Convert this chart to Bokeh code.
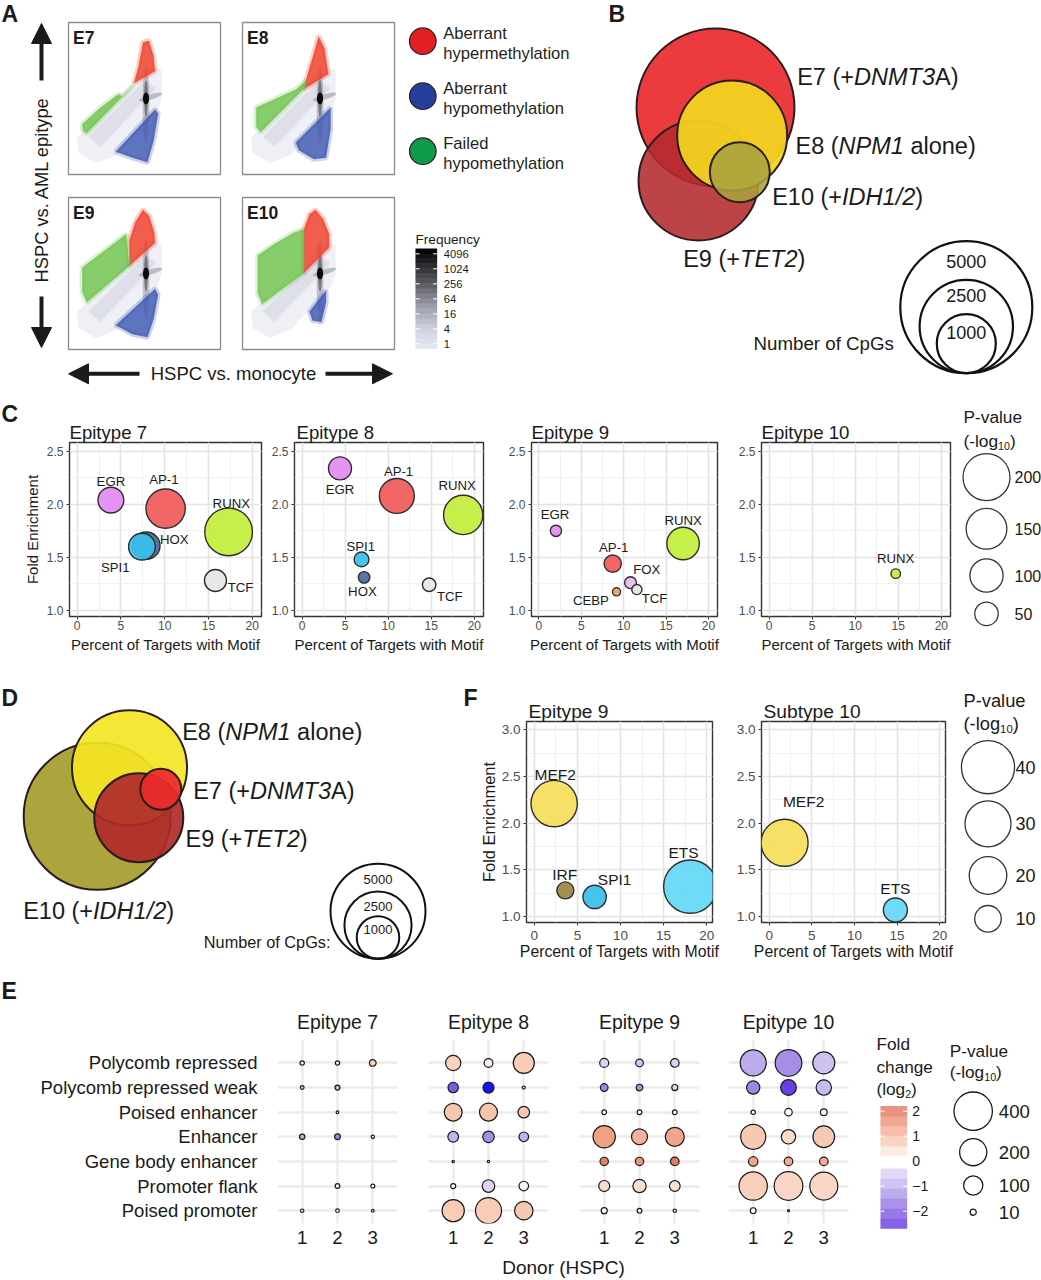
import math
from bokeh.plotting import figure
from bokeh.layouts import column, row
from bokeh.models import (Range1d, Arrow, NormalHead, SingleIntervalTicker, FixedTicker,
                          PrintfTickFormatter, LinearColorMapper, ColumnDataSource)
from bokeh.core.properties import value
from bokeh.transform import transform
from bokeh.embed import file_html
from bokeh.resources import INLINE

FONT = "Liberation Sans"
INK = "#1a1a1a"
NB = "\u00a0"

# ======================= DATA =======================
# Panel A: outlines of the point clouds, box coordinates (0..100)
A_EPITYPES = ["E7", "E8", "E9", "E10"]
A_BAND_U = [7, 43, 52, 60, 60, 57, 31, 18, 8]
A_BAND_V = [24, 59, 70, 68, 50, 42, 14, 9, 15]
A_INNER_U = [14, 50, 57, 21]
A_INNER_V = [25, 61, 57, 19]
A_RED_U = [[49, 53, 56, 57, 43, 46], [50, 54, 56.5, 40, 44, 47],
           [49, 53, 56.5, 57, 40, 40, 44], [48, 53, 57, 57, 40, 40, 44]]
A_RED_V = [[87, 88, 78, 68, 60, 71], [91, 83, 66, 56, 70, 80],
           [92, 88, 77, 70, 55, 72, 84], [92, 86, 76, 67, 50, 78, 89]]
A_GREEN_U = [[9, 21, 33, 36, 43, 12, 9.5], [9, 22, 35, 42, 41, 12, 9],
             [9, 25, 38, 40, 12, 9], [10, 22, 34, 40, 40, 13, 10]]
A_GREEN_V = [[33, 44, 53, 51, 59, 27, 29], [44, 50, 56, 62, 57, 28, 31],
             [54, 66, 76, 55, 31, 38], [62, 70, 77, 79, 50, 30, 37]]
A_BLUE_U = [[31, 57, 59, 56, 52, 42], [35, 58, 58, 55, 47, 37],
            [31, 57, 59, 56, 52, 42], [44, 55, 55, 52, 46]]
A_BLUE_V = [[15, 43, 40, 22, 8, 11], [21, 44, 30, 11, 10, 16],
            [16, 40, 36, 20, 8, 10], [25, 39, 31, 18, 19]]
A_CLASSES = ["Aberrant hypermethylation", "Aberrant hypomethylation", "Failed hypomethylation"]
A_FREQ_TICKS = [1, 4, 16, 64, 256, 1024, 4096]

# Panel B / D: number of CpGs per epitype (Venn)
B_NAMES = ["E7", "E8", "E9", "E10"]
B_COUNTS = [7160, 3470, 4130, 1030]
D_COUNTS = [930, 7330, 4390, 11970]
VENN_LEGEND = [5000, 2500, 1000]
B_LABELS = [[("E7" + NB + "(+", "normal"), ("DNMT3", "italic"), ("A)", "normal")],
            [("E8" + NB + "(", "normal"), ("NPM1", "italic"), (NB + "alone)", "normal")],
            [("E9" + NB + "(+", "normal"), ("TET2", "italic"), (")", "normal")],
            [("E10" + NB + "(+", "normal"), ("IDH1/2", "italic"), (")", "normal")]]

# Panel C: motif enrichment
C_TITLES = ["Epitype 7", "Epitype 8", "Epitype 9", "Epitype 10"]
C_E7_MOTIF = ["EGR", "AP-1", "RUNX", "HOX", "SPI1", "TCF"]
C_E7_PCT = [3.85, 10.1, 17.3, 7.9, 7.4, 15.8]
C_E7_FOLD = [2.04, 1.96, 1.74, 1.61, 1.60, 1.28]
C_E7_PVAL = [60, 140, 206, 68, 65, 44]
C_E8_MOTIF = ["EGR", "AP-1", "RUNX", "SPI1", "HOX", "TCF"]
C_E8_PCT = [4.4, 11.0, 18.7, 6.9, 7.2, 14.75]
C_E8_FOLD = [2.34, 2.08, 1.90, 1.48, 1.31, 1.24]
C_E8_PVAL = [48, 111, 140, 20, 12, 16.5]
C_E9_MOTIF = ["EGR", "RUNX", "AP-1", "FOX", "TCF", "CEBP"]
C_E9_PCT = [2.0, 17.0, 8.7, 10.8, 11.55, 9.15]
C_E9_FOLD = [1.75, 1.63, 1.44, 1.26, 1.195, 1.173]
C_E9_PVAL = [11.4, 96, 27, 12.8, 9.4, 6]
C_E10_MOTIF = ["RUNX"]
C_E10_PCT = [14.7]
C_E10_FOLD = [1.345]
C_E10_PVAL = [8.2]
C_LEGEND_P = [200, 150, 100, 50]

# Panel F
F_TITLES = ["Epitype 9", "Subtype 10"]
F_E9_MOTIF = ["MEF2", "IRF", "SPI1", "ETS"]
F_E9_PCT = [2.3, 3.6, 7.0, 18.1]
F_E9_FOLD = [2.21, 1.28, 1.21, 1.32]
F_E9_PVAL = [30.4, 4.1, 7.7, 40.3]
F_S10_MOTIF = ["MEF2", "ETS"]
F_S10_PCT = [1.8, 14.8]
F_S10_FOLD = [1.79, 1.07]
F_S10_PVAL = [31.3, 8.2]
F_LEGEND_P = [40, 30, 20, 10]

# Panel E: chromatin states (rows top->bottom) x donors
E_STATES = ["Polycomb repressed", "Polycomb repressed weak", "Poised enhancer", "Enhancer",
            "Gene body enhancer", "Promoter flank", "Poised promoter"]
E_DONORS = [1, 2, 3]
E_TITLES = ["Epitype 7", "Epitype 8", "Epitype 9", "Epitype 10"]
N = None
E_E7_PVAL = [[5, 5, 12], [3.7, 6.8, N], [N, 2, N], [7.7, 8.7, 3], [N, N, N], [N, 6, 4.3], [3, 3.7, 2]]
E_E7_LOGFC = [[0.1, 0.1, 0.7], [-0.6, -1.0, N], [N, 0, N], [-1.0, -1.6, 0], [N, N, N], [N, 0, 0], [0, 0, 0]]
E_E8_PVAL = [[63, 21, 120], [29, 33, 2.5], [86, 88, 36], [31, 36, 25], [1.4, 1.4, N], [6.8, 43, 25], [134, 184, 92]]
E_E8_LOGFC = [[0.7, 0.3, 0.8], [-2.2, -4.0, 0], [0.9, 0.95, 0.9], [-1.0, -1.5, -1.0], [0, 0, N], [0, -0.5, -0.1], [0.8, 0.8, 0.85]]
E_E9_PVAL = [[22, 16, 20], [16, 12, 10], [6, 6, 6], [135, 69, 98], [19, 19, 20], [33, 48, 31], [10, 6, 3]]
E_E9_LOGFC = [[-0.5, -0.7, -0.5], [-1.6, -1.5, -0.4], [0, 0, 0], [1.5, 1.2, 1.4], [2.0, 1.7, 2.1], [0.6, 0.55, 0.5], [0, 0, 0]]
E_E10_PVAL = [[183, 193, 131], [48, 67, 64], [5, 15, 12], [170, 56, 127], [24, 20, 20], [218, 223, 213], [9, 1, N]]
E_E10_LOGFC = [[-1.1, -1.5, -0.8], [-1.6, -2.6, -0.9], [0, 0, 0], [0.85, 0.6, 0.85], [1.4, 1.3, 1.3], [0.75, 0.65, 0.65], [0, 0, N]]
E_FC_TICKS = [2, 1, 0, -1, -2]
E_LEGEND_P = [400, 200, 100, 10]

# ======================= STYLE / LAYOUT =======================
MOTIF_COLORS = {"EGR": "#e48cf2", "AP-1": "#f25a5c", "RUNX": "#c3ee3c", "HOX": "#4d6c9e",
                "SPI1": "#38c0ec", "TCF": "#e6e6e6", "FOX": "#e8baf2", "CEBP": "#eea25a",
                "MEF2": "#f7de5a", "IRF": "#9c8642", "ETS": "#64d8f6"}
AW = {' ': 278, NB: 278, '(': 333, ')': 333, '+': 584, '-': 333, '.': 278, '/': 278, ':': 278,
      'A': 667, 'B': 667, 'C': 722, 'D': 722, 'E': 667, 'F': 611, 'G': 778, 'H': 722, 'I': 278,
      'L': 556, 'M': 833, 'N': 722, 'P': 667, 'S': 667, 'T': 611,
      'a': 556, 'b': 556, 'c': 500, 'd': 556, 'e': 556, 'f': 278, 'g': 556, 'h': 556, 'i': 222,
      'k': 500, 'l': 222, 'm': 833, 'n': 556, 'o': 556, 'p': 556, 'q': 556, 'r': 333, 's': 500,
      't': 278, 'u': 556, 'v': 500, 'w': 722, 'y': 500}


def tw(s, fs):
    return sum(AW.get(c, 556) for c in s) * fs / 1000.0


def fsz(fs):
    return value(f"{round(fs, 1)}px")


def interp_palette(anchors, n=256):
    vals = [a[0] for a in anchors]
    cols = [tuple(int(a[1][i:i + 2], 16) for i in (1, 3, 5)) for a in anchors]
    out = []
    for j in range(n):
        t = vals[0] + (vals[-1] - vals[0]) * j / (n - 1)
        k = 0
        while k < len(vals) - 2 and t > vals[k + 1]:
            k += 1
        f = min(max((t - vals[k]) / (vals[k + 1] - vals[k]), 0), 1)
        c = [round(cols[k][m] + f * (cols[k + 1][m] - cols[k][m])) for m in range(3)]
        out.append("#%02x%02x%02x" % tuple(c))
    return out


FC_PALETTE = interp_palette([(-4.0, "#1414f0"), (-2.6, "#6a3ee0"), (-2.0, "#8a6ae0"), (-1.5, "#a58de8"),
                             (-1.0, "#c2b2f0"), (-0.5, "#ddd2f5"), (0.0, "#ffffff"), (0.5, "#fbe2d6"),
                             (0.8, "#f8cdb8"), (1.2, "#f4b49c"), (1.5, "#f0a084"), (2.0, "#e6806a"),
                             (2.5, "#d06650")])
GRAY_PALETTE = interp_palette([(-0.33, "#e6e8f3"), (1, "#cfd1de"), (2.5, "#9c9daa"), (4, "#5a5b62"),
                               (5.5, "#202022"), (6.33, "#000000")])


def canvas(x0, x1, y0, y1):
    p = figure(width=x1 - x0, height=y1 - y0, x_range=Range1d(x0, x1), y_range=Range1d(y1, y0),
               x_axis_location=None, y_axis_location=None, toolbar_location=None,
               output_backend="svg", min_border=0)
    p.outline_line_color = None
    p.grid.grid_line_color = None
    return p


def txt(p, x, y, s, fs, align="left", style="normal", color=INK, angle=0.0, baseline="middle", **kw):
    p.text(x=[x], y=[y], text=[s], text_font=value(FONT), text_font_size=fsz(fs),
           text_align=align, text_baseline=baseline, text_font_style=style,
           text_color=color, angle=angle, **kw)


def rich(p, x, y, parts, fs):
    for s, st in parts:
        txt(p, x, y, s, fs, style=st)
        x += tw(s, fs)


def neglog(p, x, y, fs, sub="10", pre="(-log"):
    txt(p, x, y, pre, fs)
    x2 = x + tw(pre, fs)
    txt(p, x2, y + 0.3 * fs, sub, fs * 0.62)
    txt(p, x2 + tw(sub, fs * 0.62), y, ")", fs)


# ======================= PANEL A =======================
pA = canvas(0, 590, 0, 392)
txt(pA, 1, 13, "A", 23, style="bold")
A_BOX_POS = [(68, 22), (242, 22), (68, 197), (242, 197)]
S = 152
xr_d, yr_d = {}, {}
for name, (bx, by) in zip(A_EPITYPES, A_BOX_POS):
    xr_d["x" + name] = Range1d((0 - bx) * 100 / S, (590 - bx) * 100 / S)
    yr_d["y" + name] = Range1d((by + S - 392) * 100 / S, (by + S - 0) * 100 / S)
yr_d["lv"] = Range1d((343.3 - 392) / 15, (343.3 - 0) / 15)
pA.extra_x_ranges = xr_d
pA.extra_y_ranges = yr_d

for i, name in enumerate(A_EPITYPES):
    kw = dict(x_range_name="x" + name, y_range_name="y" + name)
    pA.patch(A_BAND_U, A_BAND_V, fill_color="#eff0f6", line_color="#eff0f6", line_width=4, **kw)
    pA.patch(A_INNER_U, A_INNER_V, fill_color="#dcdde8", fill_alpha=0.9, line_color="#dcdde8",
             line_alpha=0.5, line_width=3, **kw)
    pA.ellipse(x=[51], y=[46], width=[4.5], height=[52], fill_color="#7d7e8c", fill_alpha=0.4, line_color=None, **kw)
    pA.ellipse(x=[54], y=[51], width=[16], height=[3.5], angle=[0.3], fill_color="#7d7e8c",
               fill_alpha=0.45, line_color=None, **kw)
    pA.ellipse(x=[51], y=[50], width=[2.5], height=[24], fill_color="#3a3a42", fill_alpha=0.55, line_color=None, **kw)
    pA.ellipse(x=[51], y=[50], width=[4], height=[8], fill_color="#0a0a0a", line_color=None, **kw)
    for U, V, col in ((A_RED_U, A_RED_V, "#ee3b24"), (A_GREEN_U, A_GREEN_V, "#6cc24a"),
                      (A_BLUE_U, A_BLUE_V, "#3b55b0")):
        pA.patch(U[i], V[i], fill_color=col, fill_alpha=0.82, line_color=col, line_alpha=0.25,
                 line_width=5, **kw)
    pA.quad(left=[0], right=[100], bottom=[0], top=[100], fill_color=None, line_color="#8c8c8c",
            line_width=1.3, **kw)
    txt(pA, 3, 90, name, 17.5, style="bold", **kw)

for xs, ys, xe, ye in ((41, 80, 41, 23), (41, 296, 41, 347), (139, 373.3, 68, 373.3), (325, 373.3, 392, 373.3)):
    pA.add_layout(Arrow(end=NormalHead(size=20, fill_color=INK, line_color=INK, line_width=1),
                        x_start=xs, y_start=ys, x_end=xe, y_end=ye, line_width=4, line_color=INK))
txt(pA, 41, 189, "HSPC vs. AML epitype", 18.3, align="center", angle=math.pi / 2)
txt(pA, 233, 373.3, "HSPC vs. monocyte", 18.5, align="center")

A_LEG_COLORS = ["#e31e24", "#24409a", "#0e9a48"]
for k, (lab, col) in enumerate(zip(A_CLASSES, A_LEG_COLORS)):
    cy = 40.7 + 55 * k
    pA.circle(x=[422.3], y=[cy], radius=[13.3], fill_color=col, line_color="#2b2020", line_width=1.2)
    w1, w2 = lab.split(" ", 1)
    txt(pA, 442.7, cy - 7.4, w1, 16.6, color="#231f20")
    txt(pA, 442.7, cy + 12.6, w2, 16.6, color="#231f20")

gray_map = LinearColorMapper(palette=GRAY_PALETTE, low=-0.33, high=6.33)
lv_centers = [-0.33 + (i + 0.5) / 3 for i in range(20)]
pA.rect(x=425.8, y="k", width=21.7, height=1 / 3 + 0.02, source=ColumnDataSource(dict(k=lv_centers)),
        fill_color=transform("k", gray_map), line_color=None, y_range_name="lv")
lv_ticks = [math.log(t, 4) for t in A_FREQ_TICKS]
pA.segment(x0=415, x1=419, y0=lv_ticks, y1=lv_ticks, line_color="white", line_width=1, y_range_name="lv")
pA.segment(x0=432.6, x1=436.6, y0=lv_ticks, y1=lv_ticks, line_color="white", line_width=1, y_range_name="lv")
pA.text(x=443.3, y=lv_ticks, text=[str(t) for t in A_FREQ_TICKS], text_font=value(FONT),
        text_font_size=fsz(11.2), text_baseline="middle", text_color=INK, y_range_name="lv")
txt(pA, 415, 239.3, "Frequency", 13.6)

# ======================= PANEL B =======================
pB = canvas(590, 1041, 0, 392)
txt(pB, 608, 13, "B", 23, style="bold")
B_CX = [715.0, 731.7, 698.0, 739.3]
B_CY = [107.0, 135.0, 180.0, 171.7]
B_FILL = ["#ec3b3f", "#f3d51f", "#b32a2e", "#aaa23e"]
B_ALPHA = [1.0, 0.93, 0.88, 0.88]
R_B = 66.0
for j in (0, 2, 1, 3):
    pB.circle(x=[B_CX[j]], y=[B_CY[j]], radius=[R_B * math.sqrt(B_COUNTS[j] / 5000)],
              fill_color=B_FILL[j], fill_alpha=B_ALPHA[j], line_color="#2b1d1d", line_width=2)
B_LAB_XY = [(796.7, 76), (795, 145), (682.7, 258.3), (771.7, 196.7)]
for parts, (lx, ly) in zip(B_LABELS, B_LAB_XY):
    rich(pB, lx, ly, parts, 23.5)
for n in VENN_LEGEND:
    r = R_B * math.sqrt(n / 5000)
    pB.circle(x=[965.8], y=[372.7 - r], radius=[r], fill_color=None, line_color="#111111", line_width=2.2)
for n, ly in zip(VENN_LEGEND, (261, 294.7, 331.7)):
    txt(pB, 965.8, ly, str(n), 18, align="center")
txt(pB, 893.3, 343.3, "Number of CpGs", 18.7, align="right")


# ======================= MOTIF PANELS (C, F) =======================
def motif_panel(x0, x1, fl, fr, y0, y1, ft, fb, xr, yr, title, t_fs, t_off, tick_fs, lab_fs,
                x_stand, xl_stand, y_stand):
    p = figure(width=x1 - x0, height=y1 - y0, x_range=Range1d(*xr), y_range=Range1d(*yr),
               toolbar_location=None, output_backend="svg",
               min_border_left=fl - x0, min_border_right=x1 - fr, min_border_top=ft - y0,
               min_border_bottom=y1 - fb)
    p.title.text = title
    p.title.text_font = FONT
    p.title.text_font_size = f"{t_fs}px"
    p.title.text_font_style = "normal"
    p.title.text_color = INK
    p.title.align = "left"
    p.title.offset = t_off
    p.title.standoff = 0
    p.outline_line_color = "#333333"
    p.outline_line_width = 1.4
    p.xaxis.ticker = SingleIntervalTicker(interval=5, num_minor_ticks=2)
    p.yaxis.ticker = SingleIntervalTicker(interval=0.5, num_minor_ticks=2)
    p.yaxis.formatter = PrintfTickFormatter(format="%.1f")
    for ax in (p.xaxis[0], p.yaxis[0]):
        ax.axis_line_color = None
        ax.major_tick_line_color = "#333333"
        ax.major_tick_out = 3
        ax.major_tick_in = 0
        ax.minor_tick_line_color = None
        ax.major_label_text_font = FONT
        ax.major_label_text_font_size = f"{tick_fs}px"
        ax.major_label_text_color = "#4d4d4d"
    p.xaxis.major_label_standoff = x_stand
    p.yaxis.major_label_standoff = y_stand
    p.xaxis.axis_label = "Percent of Targets with Motif"
    p.xaxis.axis_label_text_font = FONT
    p.xaxis.axis_label_text_font_size = f"{lab_fs}px"
    p.xaxis.axis_label_text_font_style = "normal"
    p.xaxis.axis_label_text_color = INK
    p.xaxis.axis_label_standoff = xl_stand
    for g in (p.xgrid[0], p.ygrid[0]):
        g.grid_line_color = "#e3e3e3"
        g.grid_line_width = 1.6
        g.minor_grid_line_color = "#eeeeee"
        g.minor_grid_line_width = 0.9
    return p


def bubbles(p, names, xs, ys, ps, dxs, dys, k, fs):
    src = ColumnDataSource(dict(x=xs, y=ys, name=names, sz=[k * math.sqrt(v) for v in ps],
                                col=[MOTIF_COLORS[n] for n in names], dx=dxs, dy=dys))
    p.scatter(x="x", y="y", size="sz", source=src, fill_color="col", fill_alpha=0.93,
              line_color="#2e2e2e", line_width=1.4)
    p.text(x="x", y="y", text="name", x_offset="dx", y_offset="dy", source=src,
           text_font=value(FONT), text_font_size=fsz(fs), text_align="center",
           text_baseline="middle", text_color=INK)


K_C = 3.32
K_F = 8.4
C_XR, C_YR = (-0.88, 21.06), (0.94, 2.585)
c7 = motif_panel(40, 268, 69, 261, 392, 665, 442, 616, C_XR, C_YR, C_TITLES[0], 18.6, 0, 12, 15, 0, 3, 2)
c8 = motif_panel(268, 505, 291, 483, 392, 665, 442, 616, C_XR, C_YR, C_TITLES[1], 18.6, 2, 12, 15, 0, 3, 2)
c9 = motif_panel(505, 735, 527, 717, 392, 665, 442, 616, C_XR, C_YR, C_TITLES[2], 18.6, 0, 12, 15, 0, 3, 2)
c10 = motif_panel(735, 955, 758, 950, 392, 665, 442, 616, C_XR, C_YR, C_TITLES[3], 18.6, 0, 12, 15, 0, 3, 2)
bubbles(c7, C_E7_MOTIF, C_E7_PCT, C_E7_FOLD, C_E7_PVAL,
        [0, -1.7, 2.7, 28, -26.7, 25], [-18.3, -29.3, -28.7, -6.3, 21, 6.7], K_C, 13.2)
bubbles(c8, C_E8_MOTIF, C_E8_PCT, C_E8_FOLD, C_E8_PVAL,
        [0, 1.7, -6, -0.7, -1.7, 20.7], [21.3, -24, -29, -13.3, 14.3, 11.3], K_C, 13.2)
bubbles(c9, C_E9_MOTIF, C_E9_PCT, C_E9_FOLD, C_E9_PVAL,
        [-1, 0, 1, 16.3, 17.6, -25.7], [-16.7, -22.7, -16.3, -13, 9, 9], K_C, 13.2)
bubbles(c10, C_E10_MOTIF, C_E10_PCT, C_E10_FOLD, C_E10_PVAL, [0], [-15], K_C, 13.2)

pCL = canvas(0, 40, 392, 665)
txt(pCL, 1, 413, "C", 23, style="bold")
txt(pCL, 31.7, 529, "Fold Enrichment", 15, align="center", angle=math.pi / 2)

pCLg = canvas(955, 1041, 392, 665)
txt(pCLg, 963, 416.7, "P-value", 17.3)
neglog(pCLg, 963, 440, 17.3)
C_LEG_Y = [476.7, 528.3, 575, 613.3]
pCLg.scatter(x=986, y=C_LEG_Y, size=[K_C * math.sqrt(v) for v in C_LEGEND_P],
             fill_color="white", line_color="#333333", line_width=1.3)
pCLg.text(x=1014, y=C_LEG_Y, text=[str(v) for v in C_LEGEND_P], text_font=value(FONT),
          text_font_size=fsz(16), text_baseline="middle", text_color=INK)

# ----- panel D -----
pD = canvas(0, 478, 665, 965)
txt(pD, 1, 697, "D", 23, style="bold")
txt(pD, 463, 697, "F", 23, style="bold")
D_CX = [160.3, 129.0, 138.3, 96.7]
D_CY = [788.7, 767.3, 817.3, 815.7]
D_FILL = ["#ec2a2a", "#f4e524", "#b02a2a", "#aca43c"]
D_ALPHA = [0.92, 0.92, 0.92, 1.0]
R_D = 47.5
for j in (3, 1, 2, 0):
    pD.circle(x=[D_CX[j]], y=[D_CY[j]], radius=[R_D * math.sqrt(D_COUNTS[j] / 5000)],
              fill_color=D_FILL[j], fill_alpha=D_ALPHA[j], line_color="#2b1d1d", line_width=2)
D_LAB_XY = [(192.7, 790), (181.7, 731), (185, 838.3), (22.7, 910.7)]
for parts, (lx, ly) in zip(B_LABELS, D_LAB_XY):
    rich(pD, lx, ly, parts, 23.5)
for n in VENN_LEGEND:
    r = R_D * math.sqrt(n / 5000)
    pD.circle(x=[377.5], y=[958.3 - r], radius=[r], fill_color=None, line_color="#111111", line_width=2)
for n, ly in zip(VENN_LEGEND, (879.3, 905.7, 929.3)):
    txt(pD, 377.5, ly, str(n), 13, align="center")
txt(pD, 330, 941.7, "Number of CpGs:", 16.3, align="right")

# ----- panel F -----
F_XR, F_YR = (-0.91, 20.68), (0.936, 3.089)
f9 = motif_panel(498, 733, 523, 712, 665, 965, 721, 922, F_XR, F_YR, F_TITLES[0], 19.2, 2, 13.5, 15.8, 4, 0, 2)
f10 = motif_panel(733, 955, 757, 945, 665, 965, 721, 922, F_XR, F_YR, F_TITLES[1], 19.2, 2, 13.5, 15.8, 4, 0, 2)
bubbles(f9, F_E9_MOTIF, F_E9_PCT, F_E9_FOLD, F_E9_PVAL, [1, -0.7, 20, -6.7], [-29.3, -15.7, -17.3, -34.3], K_F, 15.5)
bubbles(f10, F_S10_MOTIF, F_S10_PCT, F_S10_FOLD, F_S10_PVAL, [19, 0], [-41, -21], K_F, 15.5)

pFL = canvas(478, 498, 665, 965)
txt(pFL, 488, 821.5, "Fold Enrichment", 16.5, align="center", angle=math.pi / 2)

pFLg = canvas(955, 1041, 665, 965)
txt(pFLg, 963, 700, "P-value", 18.3)
neglog(pFLg, 963, 723.3, 18.3)
F_LEG_Y = [766.7, 823.3, 875, 918.3]
pFLg.scatter(x=987.5, y=F_LEG_Y, size=[K_F * math.sqrt(v) for v in F_LEGEND_P],
             fill_color="white", line_color="#333333", line_width=1.3)
pFLg.text(x=1015, y=F_LEG_Y, text=[str(v) for v in F_LEGEND_P], text_font=value(FONT),
          text_font_size=fsz(18), text_baseline="middle", text_color=INK)

# ======================= PANEL E =======================
K_E = 1.92
fc_map = LinearColorMapper(palette=FC_PALETTE, low=-4, high=2.5)
E_Y0, E_Y1, E_FT, E_FB = 1002, 1252, 1037, 1223


def epi_panel(x0, x1, fl, fr, title, pv, fc, show_rows):
    p = figure(width=x1 - x0, height=E_Y1 - E_Y0, x_range=Range1d(0.3, 3.7), y_range=Range1d(0.478, 7.952),
               toolbar_location=None, output_backend="svg",
               min_border_left=fl - x0, min_border_right=x1 - fr, min_border_top=E_FT - E_Y0,
               min_border_bottom=E_Y1 - E_FB)
    p.title.text = title
    p.title.text_font = FONT
    p.title.text_font_size = "19.4px"
    p.title.text_font_style = "normal"
    p.title.text_color = INK
    p.title.align = "center"
    p.title.standoff = 13
    p.outline_line_color = None
    p.xaxis.ticker = FixedTicker(ticks=E_DONORS)
    p.yaxis.ticker = FixedTicker(ticks=list(range(1, 8)))
    for ax in (p.xaxis[0], p.yaxis[0]):
        ax.axis_line_color = None
        ax.major_tick_line_color = None
        ax.major_tick_out = 0
        ax.major_tick_in = 0
        ax.minor_tick_line_color = None
        ax.major_label_text_font = FONT
        ax.major_label_text_color = INK
    p.xaxis.major_label_text_font_size = "18.6px"
    p.xaxis.major_label_standoff = 7
    if show_rows:
        p.yaxis.major_label_overrides = {7 - i: s for i, s in enumerate(E_STATES)}
        p.yaxis.major_label_text_font_size = "18.5px"
        p.yaxis.major_label_standoff = 20
    else:
        p.yaxis.visible = False
    for g in (p.xgrid[0], p.ygrid[0]):
        g.grid_line_color = "#ebebeb"
        g.grid_line_width = 2.4
    xs, ys, ss, cs = [], [], [], []
    for r in range(7):
        for d in range(3):
            if pv[r][d] is None:
                continue
            xs.append(E_DONORS[d])
            ys.append(7 - r)
            ss.append(K_E * math.sqrt(pv[r][d]))
            cs.append(fc[r][d])
    src = ColumnDataSource(dict(x=xs, y=ys, sz=ss, fc=cs))
    p.scatter("x", "y", size="sz", source=src, fill_color=transform("fc", fc_map),
              line_color="#1a1a1a", line_width=1.2)
    return p


e7 = epi_panel(0, 412, 277, 397, E_TITLES[0], E_E7_PVAL, E_E7_LOGFC, True)
e8 = epi_panel(412, 563, 428, 548, E_TITLES[1], E_E8_PVAL, E_E8_LOGFC, False)
e9 = epi_panel(563, 714, 579, 699, E_TITLES[2], E_E9_PVAL, E_E9_LOGFC, False)
e10 = epi_panel(714, 863, 728, 848, E_TITLES[3], E_E10_PVAL, E_E10_LOGFC, False)

pEL = canvas(863, 1041, E_Y0, E_Y1)
pEL.extra_y_ranges = {"fc": Range1d((1160.7 - E_Y1) / 25, (1160.7 - E_Y0) / 25)}
txt(pEL, 876, 1043, "Fold", 17.2)
txt(pEL, 876, 1066, "change", 17.2)
neglog(pEL, 876, 1088, 17.2, sub="2", pre="(log")
bins = [0.4, 0.8, 1.2, 1.6, 2.0, -0.5, -0.9, -1.3, -1.7, -2.1, -2.5]
pEL.rect(x=893.3, y="v", width=26.7, height=0.41, source=ColumnDataSource(dict(v=bins)),
         fill_color=transform("v", fc_map), fill_alpha=0.85, line_color=None, y_range_name="fc")
tk = [t for t in E_FC_TICKS if t != 0]
pEL.segment(x0=880, x1=884, y0=tk, y1=tk, line_color="white", line_width=1, y_range_name="fc")
pEL.segment(x0=902.6, x1=906.6, y0=tk, y1=tk, line_color="white", line_width=1, y_range_name="fc")
pEL.text(x=911.7, y=E_FC_TICKS, text=[str(t).replace("-", "\u2212") for t in E_FC_TICKS],
         text_font=value(FONT), text_font_size=fsz(14), text_baseline="middle", text_color=INK,
         y_range_name="fc")
txt(pEL, 949.3, 1050, "P-value", 17.2)
neglog(pEL, 949.3, 1071.7, 17.2)
E_LEG_Y = [1110.7, 1151.7, 1185, 1211.7]
pEL.scatter(x=972.7, y=E_LEG_Y, size=[K_E * math.sqrt(v) for v in E_LEGEND_P],
            fill_color="white", line_color="#1a1a1a", line_width=1.3)
pEL.text(x=998.3, y=E_LEG_Y, text=[str(v) for v in E_LEGEND_P], text_font=value(FONT),
         text_font_size=fsz(18.6), text_baseline="middle", text_color=INK)

pET = canvas(0, 1041, 965, E_Y0)
txt(pET, 1, 990, "E", 23, style="bold")
pEB = canvas(0, 1041, E_Y1, 1280)
txt(pEB, 563, 1267, "Donor (HSPC)", 19, align="center")

layout = column(
    row(pA, pB),
    row(column(pCL), c7, c8, c9, c10, column(pCLg)),
    row(column(pD), column(pFL), f9, f10, column(pFLg)),
    pET,
    row(e7, e8, e9, e10, column(pEL)),
    pEB,
)

open("out.html", "w").write(file_html(layout, INLINE))
